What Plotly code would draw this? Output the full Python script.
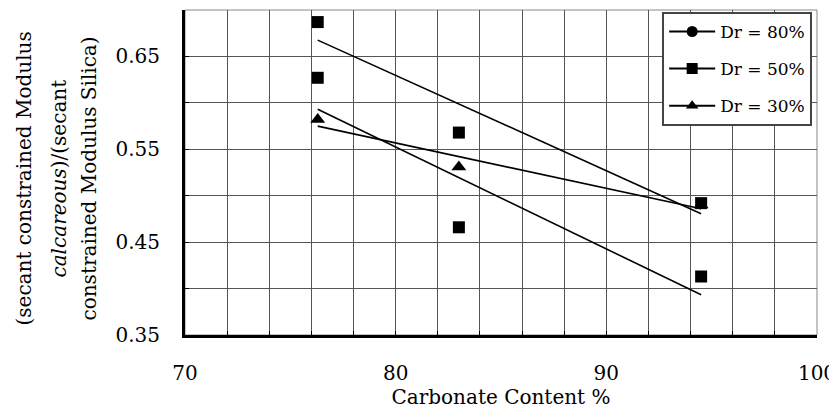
import numpy as np
import plotly.graph_objects as go

# Data
carbonate = [76.3, 83.0, 94.5]
dr80 = [0.687, 0.568, 0.492]
dr50 = [0.627, 0.466, 0.413]
dr30 = [0.582, 0.531, 0.490]
series_names = ["Dr = 80%", "Dr = 50%", "Dr = 30%"]
legend_symbols = ["circle", "square", "triangle-up"]
plot_symbols = ["square", "square", "triangle-up"]

x_ticks = [70, 80, 90, 100]
y_ticks = [0.35, 0.45, 0.55, 0.65]
y_title_lines = ["(secant constrained Modulus",
                 "<i>calcareous</i>)/(secant",
                 "constrained Modulus Silica)"]
x_title = "Carbonate Content %"

FONT = "DejaVu Serif"
fig = go.Figure()

series = [dr80, dr50, dr30]
# linear trend lines fitted to each series
for ys in series:
    k, b = np.polyfit(carbonate, ys, 1)
    xs = [min(carbonate), max(carbonate)]
    fig.add_trace(go.Scatter(x=xs, y=[k * v + b for v in xs], mode="lines",
                             line=dict(color="black", width=1.6),
                             showlegend=False, hoverinfo="skip"))
# markers (triangles first, squares on top)
for idx in [2, 1, 0]:
    fig.add_trace(go.Scatter(x=carbonate, y=series[idx], mode="markers",
                             marker=dict(symbol=plot_symbols[idx], color="black",
                                         size=12 if plot_symbols[idx] == "square" else 13),
                             showlegend=False))
# legend entries
for i, name in enumerate(series_names):
    fig.add_trace(go.Scatter(x=[None], y=[None], mode="lines+markers", name=name,
                             legendgroup=name,
                             line=dict(color="black", width=2),
                             marker=dict(symbol=legend_symbols[i], color="black", size=11)))

# y-axis title: three rotated lines
annotations = []
for shift, line in zip([-162, -127, -97], y_title_lines):
    annotations.append(dict(text=line, xref="paper", yref="paper", x=0, y=0.5,
                            xanchor="center", yanchor="middle", xshift=shift, yshift=-6,
                            textangle=-90, showarrow=False,
                            font=dict(family=FONT, size=20, color="black")))

# page body has an 8px margin, so the figure is sized/offset to compensate
fig.update_layout(
    width=829, height=407,
    margin=dict(l=177, r=20, t=2, b=80),
    paper_bgcolor="white", plot_bgcolor="white",
    font=dict(family=FONT, size=20, color="black"),
    showlegend=True,
    legend=dict(x=0.755, y=0.994, xanchor="left", yanchor="top",
                bgcolor="white", bordercolor="#444", borderwidth=2,
                font=dict(family=FONT, size=17), itemwidth=46,
                tracegroupgap=12),
    xaxis=dict(range=[70, 100], tickvals=x_ticks, ticktext=[str(v) for v in x_ticks],
               ticklabeloverflow="allow",
               showline=True, linecolor="black", linewidth=3,
               ticks="inside", ticklen=4, tickcolor="black", ticklabelstandoff=18,
               showgrid=True, gridcolor="#555", gridwidth=1, zeroline=False,
               minor=dict(dtick=2, showgrid=True, gridcolor="#555", gridwidth=1,
                          ticks="inside", ticklen=4, tickcolor="black"),
               title=dict(text=x_title, font=dict(family=FONT, size=20), standoff=0)),
    yaxis=dict(range=[0.35, 0.70], tickvals=y_ticks, ticktext=[f"{v:.2f}" for v in y_ticks],
               showline=True, linecolor="black", linewidth=3,
               ticks="inside", ticklen=4, tickcolor="black", ticklabelstandoff=18,
               showgrid=True, gridcolor="#555", gridwidth=1, zeroline=False,
               minor=dict(dtick=0.05, showgrid=True, gridcolor="#555", gridwidth=1,
                          ticks="inside", ticklen=4, tickcolor="black")),
    annotations=annotations,
    shapes=[dict(type="rect", xref="paper", yref="paper", x0=0, x1=1, y0=0, y1=1,
                 line=dict(color="#888", width=1), layer="below")],
)

fig.write_html("out.html")
